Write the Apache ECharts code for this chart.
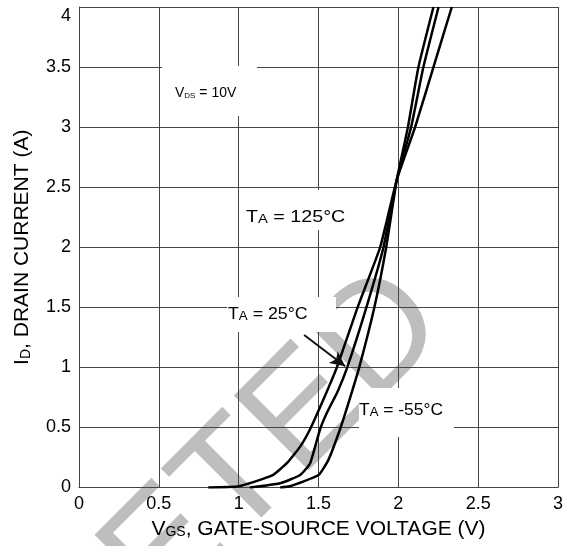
<!DOCTYPE html>
<html>
<head>
<meta charset="utf-8">
<script src="https://cdn.jsdelivr.net/npm/echarts@6/dist/echarts.min.js"></script>
<style>
html, body { margin: 0; padding: 0; background: #fff; }
#main { width: 567px; height: 546px; }
</style>
</head>
<body>
<div id="main"></div>
<script>
// V_GS (V), I_D (A)
var vgs125 = [0.81, 1.0, 1.21, 1.3, 1.385, 1.447, 1.53, 1.615, 1.745, 1.886, 1.99, 2.105, 2.22, 2.335];
var id125  = [0, 0.01, 0.1, 0.2, 0.34, 0.485, 0.73, 1.0, 1.5, 2.0, 2.56, 3.0, 3.5, 4.0];
var vgs25  = [1.07, 1.26, 1.385, 1.447, 1.51, 1.552, 1.62, 1.68, 1.80, 1.907, 1.99, 2.08, 2.157, 2.252];
var id25   = [0, 0.035, 0.104, 0.2, 0.485, 0.62, 0.8, 1.0, 1.5, 2.0, 2.56, 3.0, 3.5, 4.0];
var vgs55  = [1.26, 1.32, 1.50, 1.562, 1.635, 1.687, 1.755, 1.85, 1.924, 1.99, 2.06, 2.126, 2.22];
var id55   = [0, 0.01, 0.104, 0.23, 0.485, 0.7, 1.0, 1.5, 2.0, 2.56, 3.0, 3.5, 4.0];
// arrow T_A = 25°C -> curve
var arrowFrom = [1.41, 1.27];
var arrowTo = [1.667, 1.01];

function pairs(xs, ys) {
	var out = [];
	for (var i = 0; i < xs.length; i++) {
		out.push([xs[i], ys[i]]);
	}
	return out;
}

var font = '"Liberation Sans", Arial, sans-serif';
var myChart = echarts.init(document.getElementById('main'));

function curve(name, data) {
	return {
		name : name,
		type : 'line',
		data : data,
		symbol : 'none',
		smooth : 0.15,
		lineStyle : { color : '#000', width : 2.5 },
		z : 3
	};
}

// label with a small subscript, e.g. T_A = 25°C
function label(x, y, main, sub, rest, fs, sfs, sx) {
	return {
		type : 'text',
		x : x,
		y : y,
		scaleX : sx,
		z : 20,
		style : {
			text : '{m|' + main + '}{s|' + sub + '}{m|' + rest + '}',
			textVerticalAlign : 'middle',
			rich : {
				m : { fontFamily : font, fontSize : fs, fill : '#000', verticalAlign : 'bottom', lineHeight : fs },
				s : { fontFamily : font, fontSize : sfs, fill : '#000', verticalAlign : 'bottom', lineHeight : sfs + 1 }
			}
		}
	};
}

function box(x, y, w, h) {
	return {
		type : 'rect', z : 10,
		shape : { x : x, y : y, width : w, height : h },
		style : { fill : '#fff' }
	};
}

var s25 = curve('25', pairs(vgs25, id25));
s25.markLine = {
	silent : true,
	symbol : [ 'none', 'arrow' ],
	symbolSize : [ 11, 15 ],
	label : { show : false },
	lineStyle : { color : '#111', width : 2, type : 'solid' },
	animation : false,
	data : [ [ { coord : arrowFrom }, { coord : arrowTo } ] ]
};

var nameRich = {
	m : { fontFamily : font, fontSize : 21, color : '#000', verticalAlign : 'bottom', lineHeight : 22 },
	s : { fontFamily : font, fontSize : 14, color : '#000', verticalAlign : 'bottom', lineHeight : 15 }
};

var option = {
	animation : false,
	backgroundColor : '#fff',
	grid : { left : 79, right : 9, top : 7, bottom : 58.5 },
	xAxis : {
		type : 'value', min : 0, max : 3, interval : 0.5,
		name : '{m|V}{s|GS}{m|, GATE-SOURCE VOLTAGE (V)}',
		nameLocation : 'middle', nameGap : 27,
		nameTextStyle : { rich : nameRich },
		axisLine : { lineStyle : { color : '#444', width : 1 } },
		axisTick : { show : false },
		axisLabel : { fontFamily : font, fontSize : 18, color : '#000', margin : 8 },
		splitLine : { show : true, lineStyle : { color : '#444', width : 1 } }
	},
	yAxis : {
		type : 'value', min : 0, max : 4, interval : 0.5,
		name : '{m|I}{s|D}{m|, DRAIN CURRENT (A)}',
		nameLocation : 'middle', nameGap : 46, nameRotate : 90,
		nameTextStyle : { rich : nameRich },
		axisLine : { show : true, lineStyle : { color : '#444', width : 1 } },
		axisTick : { show : false },
		axisLabel : {
			fontFamily : font, fontSize : 18, color : '#000', margin : 8,
			verticalAlignMaxLabel : 'top'
		},
		splitLine : { show : true, lineStyle : { color : '#444', width : 1 } }
	},
	graphic : [
		// diagonal watermark behind the grid
		{
			type : 'text', z : -1, x : 421, y : 298, rotation : Math.PI / 4,
			style : {
				text : 'DELETED', fontFamily : font, fontSize : 154,
				fill : '#bebebe', textAlign : 'right', textVerticalAlign : 'middle'
			}
		},
		box(162, 66, 95, 50),
		box(244, 190, 113, 40),
		box(227, 297, 109, 35),
		box(359, 388, 95, 49),
		label(175, 93, 'V', 'DS', ' = 10V', 14, 8, 1),
		label(246, 218, 'T', 'A', ' = 125°C', 16, 12, 1.23),
		label(228, 315, 'T', 'A', ' = 25°C', 16, 12, 1.11),
		label(359, 411, 'T', 'A', ' = -55°C', 16, 12, 1.09)
	],
	series : [ curve('125', pairs(vgs125, id125)), s25, curve('-55', pairs(vgs55, id55)) ]
};

myChart.setOption(option);
</script>
</body>
</html>
